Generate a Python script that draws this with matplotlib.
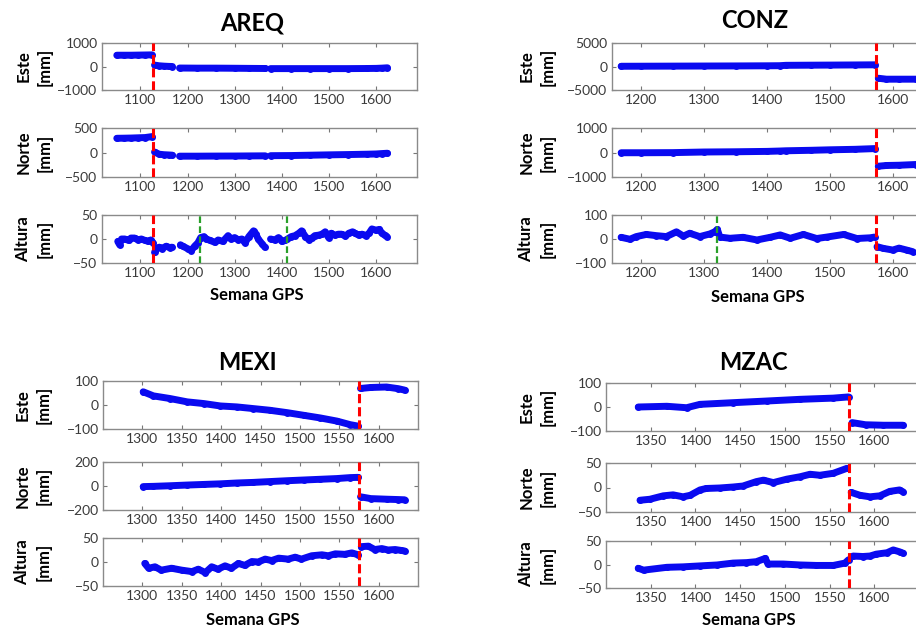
import numpy as np
import matplotlib
matplotlib.use("Agg")
import matplotlib.pyplot as plt

nan = np.nan
plt.rcParams['font.family'] = ['Lato', 'DejaVu Sans']

# ---- AREQ ----
areq_wk = [1050, 1065, 1080, 1095, 1110, 1125, 1127, 1130, 1140, 1150, 1160, 1168, 1175,
           1183, 1220, 1260, 1300, 1330, 1365, 1370, 1376, 1420, 1460, 1500, 1540, 1580,
           1600, 1612, 1624]
areq_este = [480, 480, 480, 485, 490, 495, nan, 60, 30, 15, 5, 0, nan,
             -65, -70, -70, -75, -80, -85, nan, -90, -90, -90, -90, -90, -85,
             -80, -70, -55]
areq_norte = [290, 292, 295, 300, 305, 325, nan, 10, -35, -45, -50, -55, nan,
              -75, -75, -73, -72, -70, -68, nan, -65, -62, -55, -48, -42, -35,
              -30, -22, -15]
areq_alt_wk = [1052, 1056, 1060, 1067, 1075, 1080, 1088, 1095, 1102, 1110,
               1117, 1122, 1127, 1128, 1130, 1134, 1140, 1145, 1155, 1162,
               1167, 1175, 1185, 1190, 1200, 1208, 1215, 1222, 1228, 1235,
               1240, 1248, 1258, 1265, 1275, 1286, 1292, 1300, 1308, 1315,
               1322, 1330, 1340, 1345, 1350, 1358, 1364, 1370, 1376, 1385,
               1393, 1400, 1407, 1412, 1420, 1428, 1436, 1442, 1450, 1458,
               1465, 1470, 1478, 1485, 1492, 1499, 1505, 1512, 1520, 1527,
               1535, 1542, 1550, 1555, 1563, 1570, 1578, 1585, 1591, 1600,
               1607, 1612, 1618, 1623]
areq_alt = [-5, -12, 0, 0, -3, 2, 2, -2, 0, -3,
            -5, -2, -8, nan, -28, -20, -17, -20, -15, -18,
            -17, nan, -12, -15, -20, -24, -15, -8, 3, 5,
            0, -3, -7, -2, -5, 7, 0, 3, -2, 0,
            -8, 5, 17, 10, 0, -10, -17, nan, 0, -2,
            3, -5, -3, 0, 5, 7, 12, 17, 5, -2,
            3, 7, 8, 10, 15, 3, 12, 8, 10, 10,
            6, 12, 15, 12, 8, 10, 7, 12, 21, 18,
            20, 12, 8, 5]

# ---- CONZ ----
conz_wk = [1168, 1200, 1250, 1300, 1350, 1400, 1420, 1430, 1470, 1500, 1540, 1572,
           1574, 1577, 1590, 1610, 1637]
conz_este = [50, 60, 80, 100, 120, 150, 170, 250, 280, 300, 330, 360,
             nan, -2500, -2700, -2700, -2700]
conz_norte = [-10, -10, -5, 20, 30, 45, 60, 70, 90, 110, 130, 160,
              nan, -560, -530, -520, -490]
conz_alt_wk = [1168, 1182, 1192, 1208, 1224, 1240, 1256, 1267, 1277, 1293,
               1309, 1317, 1321, 1325, 1341, 1362, 1384, 1405, 1421, 1437,
               1458, 1479, 1495, 1522, 1543, 1564, 1571, 1573, 1575, 1585,
               1600, 1610, 1622, 1632]
conz_alt = [7, -1, 10, 19, 14, 10, 30, 12, 24, 10,
            21, 30, 40, 8, 3, 7, -4, 7, 17, 3,
            19, 2, 8, 19, 2, 5, 8, nan, -32, -39,
            -46, -38, -46, -53]

# ---- MEXI ----
mexi_wk = [1301, 1314, 1335, 1357, 1378, 1399, 1420, 1441, 1462, 1484, 1505, 1526,
           1547, 1564, 1574, 1575, 1577, 1590, 1610, 1625, 1633]
mexi_este = [55, 38, 27, 13, 6, -4, -8, -15, -22, -32, -43, -54,
             -67, -82, -88, nan, 69, 73, 75, 68, 62]
mexi_norte = [-5, -3, 2, 8, 13, 18, 25, 30, 37, 44, 50, 56,
              62, 70, 72, nan, -90, -105, -110, -113, -115]
mexi_alt_wk = [1303, 1308, 1316, 1324, 1337, 1350, 1363, 1371, 1380, 1388,
               1396, 1405, 1413, 1422, 1430, 1439, 1447, 1456, 1464, 1473,
               1485, 1494, 1502, 1515, 1528, 1536, 1545, 1557, 1566, 1574,
               1576, 1578, 1587, 1595, 1604, 1612, 1621, 1629, 1633]
mexi_alt = [-3, -13, -10, -17, -13, -17, -20, -15, -22, -10,
            -15, -8, -13, -3, -7, 1, 0, 6, 3, 8,
            6, 10, 6, 13, 15, 13, 17, 16, 19, 15,
            nan, 32, 33, 26, 28, 25, 26, 24, 23]

# ---- MZAC ----
mzac_wk = [1336, 1368, 1390, 1405, 1442, 1480, 1517, 1554, 1571, 1573, 1575, 1590, 1610, 1632]
mzac_este = [0, 3, -3, 11, 18, 25, 32, 37, 42, nan, -65, -74, -76, -76]
mzac_norte_wk = [1338, 1349, 1364, 1375, 1386, 1394, 1405, 1412, 1427, 1442,
                 1453, 1468, 1476, 1487, 1502, 1517, 1528, 1539, 1554, 1569,
                 1572, 1574, 1584, 1595, 1606, 1617, 1628, 1632]
mzac_norte = [-26, -24, -17, -15, -19, -16, -5, -2, -1, 1,
              3, 12, 15, 10, 17, 22, 27, 25, 29, 39,
              nan, -10, -16, -19, -17, -8, -5, -9]
mzac_alt_wk = [1336, 1342, 1368, 1386, 1405, 1424, 1442, 1457, 1468, 1478,
               1481, 1498, 1517, 1535, 1554, 1567, 1571, 1573, 1576, 1587,
               1595, 1602, 1614, 1621, 1628, 1632]
mzac_alt = [-8, -12, -6, -5, -3, -1, 3, 4, 6, 13,
            1, 1, -1, -2, -2, 3, 10, nan, 18, 17,
            18, 22, 25, 31, 27, 24]

components = ["Este", "Norte", "Altura"]

stations = [
    dict(name="AREQ", left=101.7, tops=[43, 128, 215], bots=[90, 177, 263],
         xlim=(1018, 1686), xticks=[1100, 1200, 1300, 1400, 1500, 1600],
         ylims=[1000, 500, 50],
         series=[(areq_wk, areq_este), (areq_wk, areq_norte), (areq_alt_wk, areq_alt)],
         red=1127, green=[1226, 1412], title_xy=(252, 23), xlab_xy=(257, 295), lab_r=53),
    dict(name="CONZ", left=611.7, tops=[43, 128, 215], bots=[90, 177, 263],
         xlim=(1153, 1654), xticks=[1200, 1300, 1400, 1500, 1600],
         ylims=[5000, 1000, 100],
         series=[(conz_wk, conz_este), (conz_wk, conz_norte), (conz_alt_wk, conz_alt)],
         red=1573, green=[1321], title_xy=(755, 21), xlab_xy=(758, 297), lab_r=556),
    dict(name="MEXI", left=103, tops=[381, 462, 538], bots=[429, 510, 586],
         xlim=(1250, 1650), xticks=[1300, 1350, 1400, 1450, 1500, 1550, 1600],
         ylims=[100, 200, 50],
         series=[(mexi_wk, mexi_este), (mexi_wk, mexi_norte), (mexi_alt_wk, mexi_alt)],
         red=1575, green=[], title_xy=(247, 362), xlab_xy=(253, 620), lab_r=52),
    dict(name="MZAC", left=606, tops=[383, 463, 541], bots=[431, 512, 588],
         xlim=(1300, 1652), xticks=[1350, 1400, 1450, 1500, 1550, 1600],
         ylims=[100, 50, 50],
         series=[(mzac_wk, mzac_este), (mzac_norte_wk, mzac_norte), (mzac_alt_wk, mzac_alt)],
         red=1572, green=[], title_xy=(753, 362), xlab_xy=(749, 620), lab_r=556),
]

W, H = 916, 630
fig = plt.figure(figsize=(W / 100, H / 100), dpi=100)
AX_W = 315

for st in stations:
    for i, comp in enumerate(components):
        top, bot = st["tops"][i], st["bots"][i]
        ax = fig.add_axes([st["left"] / W, 1 - bot / H, AX_W / W, (bot - top) / H])
        wk, val = st["series"][i]
        # thick band of weekly solutions
        ax.plot(wk, val, "-", color="#0a0af0", lw=5, solid_capstyle="round",
                solid_joinstyle="round", marker="o", ms=5, mew=0, zorder=2)
        lim = st["ylims"][i]
        ax.set_ylim(-lim, lim)
        ax.set_yticks([-lim, 0, lim])
        ax.set_xlim(*st["xlim"])
        ax.set_xticks(st["xticks"])
        ax.axvline(st["red"], color="red", lw=2.2, ls=(0, (3, 1.3)), zorder=3)
        if comp == "Altura":
            for g in st["green"]:
                ax.axvline(g, color="#2aa02a", lw=1.6, ls=(0, (3, 1.5)), zorder=3)
        for sp in ax.spines.values():
            sp.set_color("#8a8a8a")
            sp.set_linewidth(1.0)
        ax.tick_params(direction="in", length=3, width=0.8, color="#777777",
                       top=True, right=True, labelsize=10, labelcolor="#3a3a3a", pad=3)
        ax.set_ylabel(comp + "\n[mm]", fontsize=12, fontweight="bold", linespacing=1.45)
        ax.yaxis.set_label_coords((st["lab_r"] - st["left"]) / AX_W, 0.5)
    fig.text(st["title_xy"][0] / W, 1 - st["title_xy"][1] / H, st["name"],
             fontsize=17, fontweight="bold", ha="center", va="center")
    fig.text(st["xlab_xy"][0] / W, 1 - st["xlab_xy"][1] / H, "Semana GPS",
             fontsize=12, fontweight="bold", ha="center", va="center")

fig.savefig("out.png", dpi=100)
